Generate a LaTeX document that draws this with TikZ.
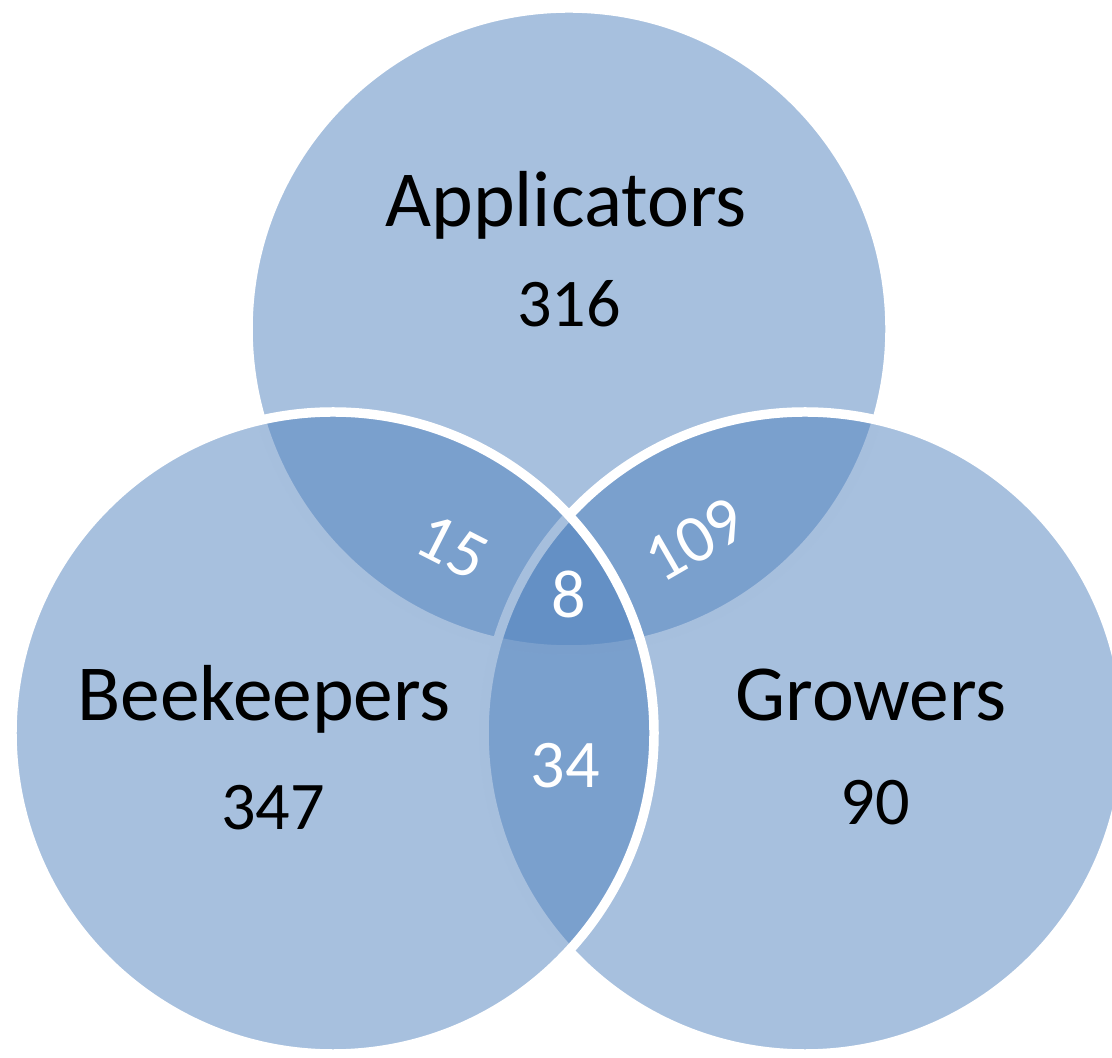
\documentclass[tikz,border=0pt]{standalone}
\usepackage{fontspec}
\setmainfont{Carlito}
\definecolor{vennblue}{HTML}{4F81BD}

\begin{document}
\begin{tikzpicture}[
  venn/.style={fill=vennblue,fill opacity=0.5,draw=white,line width=2.7pt},
  setname/.style={anchor=base,font=\fontsize{22.6}{27}\selectfont},
  setcount/.style={anchor=base,font=\fontsize{19.4}{23}\selectfont},
  overlap/.style={setcount,text=white}]
\useasboundingbox (0,0) rectangle (11.12,10.57);
\clip (0,0) rectangle (11.12,10.57);
\coordinate (A) at (5.69,7.28);
\coordinate (B) at (3.33,3.24);
\coordinate (G) at (8.05,3.24);
\filldraw[venn] (A) circle (3.21);
\filldraw[venn] (G) circle (3.21);
\filldraw[venn] (B) circle (3.21);
\node[setname] (appname) at (5.66,8.30) {Applicators};
\node[setcount] (appcount) at (5.69,7.30) {316};
\node[setname] (beename) at (2.64,3.36) {Beekeepers};
\node[setcount] (beecount) at (2.73,2.27) {347};
\node[setname] (groname) at (8.71,3.36) {Growers};
\node[setcount] (grocount) at (8.75,2.32) {90};
\node[overlap,anchor=center,rotate=-27] (appbee) at (4.52,5.10) {15};
\node[overlap,anchor=center,rotate=30] (appgro) at (6.95,5.17) {109};
\node[overlap] (all) at (5.69,4.39) {8};
\node[overlap] (beegro) at (5.65,2.69) {34};
\end{tikzpicture}
\end{document}
